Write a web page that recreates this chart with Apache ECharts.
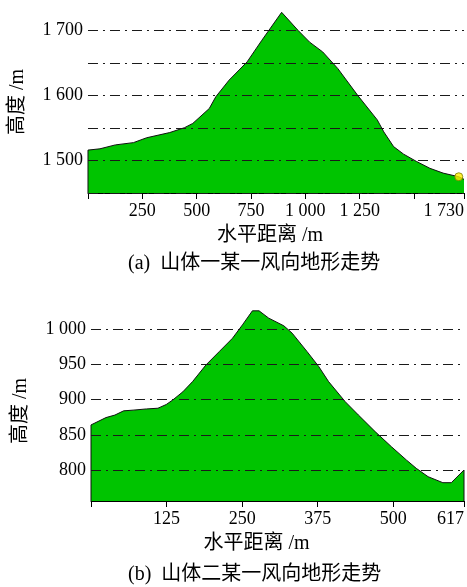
<!DOCTYPE html>
<html><head><meta charset="utf-8">
<script src="https://cdn.jsdelivr.net/npm/echarts@6/dist/echarts.min.js"></script>
<style>html,body{margin:0;padding:0;background:#fff}#c{width:467px;height:587px}</style>
</head><body><div id="c"></div>
<script>
// Chart (a): 山体一
const distA = [0, 0, 55, 126, 209, 270, 376, 444, 482, 558, 588, 649, 732, 800, 891, 967, 1020, 1080, 1149, 1240, 1331, 1361, 1406, 1452, 1512, 1573, 1634, 1706, 1730];
const heightA = [1450, 1516, 1518, 1524, 1527.5, 1535, 1543, 1550.5, 1557, 1580, 1598, 1623.6, 1651.7, 1685, 1728, 1700, 1682, 1667, 1641.6, 1600.6, 1562.5, 1544, 1521.4, 1509.8, 1498.4, 1488, 1480.6, 1475, 1471];
const markA = [[1706, 1475]];
const xTicksA = [0, 250, 500, 750, 1000, 1250, 1500, 1730];
const xLabelsA = [250, 500, 750, 1000, 1250, 1730];
const yTicksA = [1450, 1500, 1550, 1600, 1650, 1700];
const yLabelsA = [1500, 1600, 1700];

// Chart (b): 山体二
const distB = [0, 0, 24.7, 39.5, 54, 69.6, 91.6, 110.7, 124.5, 135.4, 151.9, 168, 190, 212, 234, 250.5, 267, 278, 294, 319, 332.7, 357.5, 376.6, 393, 420.5, 442.4, 470, 497, 522, 538, 557.6, 582, 596, 617, 617];
const heightB = [756, 864, 874.4, 878, 884, 885, 886.7, 887.7, 893, 899.5, 911, 925.5, 949, 968, 987, 1006, 1026, 1026, 1015.6, 1004.7, 994.3, 968, 947, 925.5, 897, 878, 854.5, 833, 814, 802.4, 790.5, 782, 782, 800, 756];
const xTicksB = [0, 125, 250, 375, 500, 617];
const xLabelsB = [125, 250, 375, 500, 617];
const yTicksB = [800, 850, 900, 950, 1000];
const yLabelsB = [800, 850, 900, 950, 1000];

const captionA = '(a)  山体一某一风向地形走势';
const captionB = '(b)  山体二某一风向地形走势';
const xName = '水平距离 /m';
const yName = '高度 /m';

const FONT = "'Liberation Serif', 'Noto Sans CJK SC', serif";
const fmt = v => v >= 1000 ? Math.floor(v / 1000) + ' ' + String(v % 1000).padStart(3, '0') : String(v);
const pairs = (xs, ys) => xs.map((x, i) => [x, ys[i]]);

function xAxisDef(gi, max, ticks, labels, padRight) {
  return {
    type: 'value', gridIndex: gi, min: 0, max: max,
    name: xName, nameLocation: 'middle', nameGap: 33,
    nameTextStyle: { fontFamily: FONT, fontSize: 20, color: '#000', padding: [0, padRight, 0, 0] },
    axisLine: { show: true, lineStyle: { color: '#000', width: 1 } },
    axisTick: { show: true, customValues: ticks, length: 6, lineStyle: { color: '#000' } },
    axisLabel: { customValues: labels, formatter: fmt, fontFamily: FONT, fontSize: 18, color: '#000', margin: 9, alignMaxLabel: 'right' },
    splitLine: { show: false }
  };
}
function yAxisDef(gi, min, max, ticks, labels, namePad) {
  return {
    type: 'value', gridIndex: gi, min: min, max: max, z: 5,
    name: yName, nameLocation: 'middle', nameGap: 60,
    nameTextStyle: { fontFamily: FONT, fontSize: 20, color: '#000', padding: namePad },
    axisLine: { show: false },
    axisTick: { show: false, customValues: ticks },
    axisLabel: { customValues: labels, formatter: fmt, fontFamily: FONT, fontSize: 18, color: '#000', margin: 5 },
    splitLine: { show: true, lineStyle: { color: '#1a1a1a', width: 1, type: [10, 5, 2, 5] } }
  };
}

const chart = echarts.init(document.getElementById('c'), null, { renderer: 'canvas' });
chart.setOption({
  animation: false,
  backgroundColor: '#fff',
  title: [
    { text: captionA, left: 128, top: 254, padding: 0, textStyle: { fontFamily: FONT, fontSize: 20, fontWeight: 'normal', color: '#000' } },
    { text: captionB, left: 128, top: 565, padding: 0, textStyle: { fontFamily: FONT, fontSize: 20, fontWeight: 'normal', color: '#000' } }
  ],
  grid: [
    { left: 87, top: 11, width: 381, height: 182 },
    { left: 91, top: 308, width: 375, height: 193 }
  ],
  xAxis: [
    xAxisDef(0, 1730, xTicksA, xLabelsA, 12),
    xAxisDef(1, 617, xTicksB, xLabelsB, 42)
  ],
  yAxis: [
    yAxisDef(0, 1450, 1730, yTicksA, yLabelsA, [0, 0, 0, 0]),
    yAxisDef(1, 756, 1030, yTicksB, yLabelsB, [0, 13, 0, 0])
  ],
  series: [
    {
      type: 'line', xAxisIndex: 0, yAxisIndex: 0, data: pairs(distA, heightA),
      showSymbol: false, symbol: 'none',
      lineStyle: { color: '#111', width: 1 },
      areaStyle: { color: '#00c400', opacity: 1, origin: 'start' }
    },
    {
      type: 'scatter', xAxisIndex: 0, yAxisIndex: 0, data: markA, symbolSize: 8, z: 10,
      itemStyle: { color: '#ffee00', borderColor: '#7a7a00', borderWidth: 1 }
    },
    {
      type: 'line', xAxisIndex: 1, yAxisIndex: 1, data: pairs(distB, heightB),
      showSymbol: false, symbol: 'none',
      lineStyle: { color: '#111', width: 1 },
      areaStyle: { color: '#00c400', opacity: 1, origin: 'start' }
    }
  ]
});
</script></body></html>
